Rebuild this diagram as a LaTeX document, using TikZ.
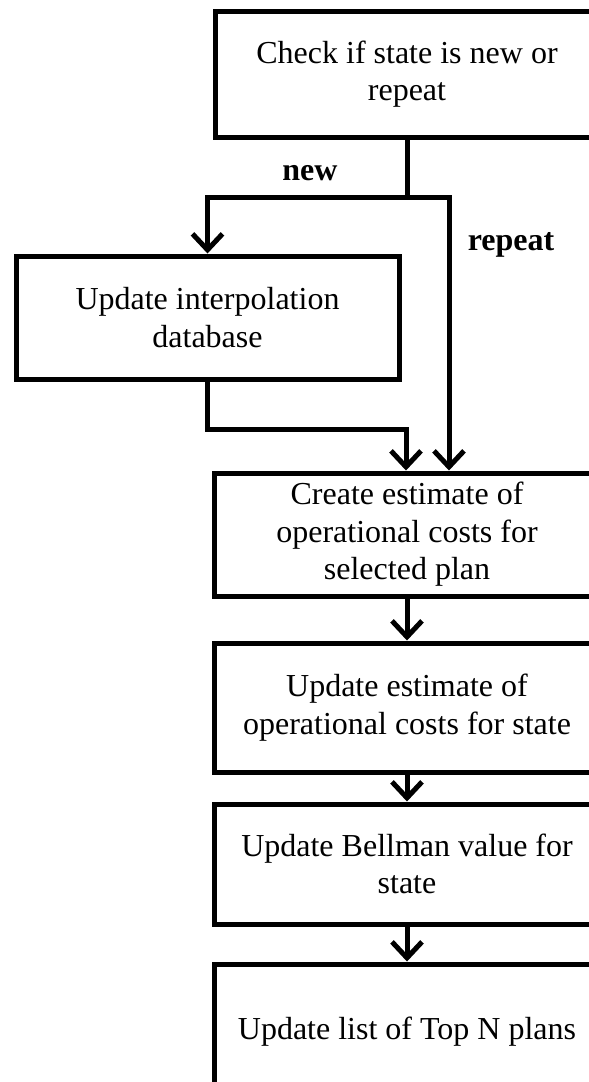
\documentclass[tikz,border=0pt]{standalone}
\usepackage{fontspec}
\setmainfont{Liberation Serif}
\usetikzlibrary{arrows.meta,calc}
\begin{document}
\begin{tikzpicture}[x=1pt,y=-1pt,
  box/.style={draw, line width=5pt, minimum width=384pt, inner sep=0pt, align=center,
    font=\fontsize{32}{37.5}\selectfont},
  conn/.style={line width=5pt},
  arr/.style={line width=5pt, -{Straight Barb[length=16pt,width=30pt]}},
  lbl/.style={font=\fontsize{32}{37.5}\selectfont\bfseries, inner sep=0pt}]
\useasboundingbox (0,0) rectangle (589,1082);
\clip (0,0) rectangle (589,1082);
\node[box, minimum height=126pt] (b1) at (407,74) {Check if state is new or\\repeat};
\node[box, minimum width=383pt, minimum height=123pt] (b2) at (207.5,317.5) {Update interpolation\\database};
\node[box, minimum width=386pt, minimum height=123pt] (b3) at (407,534.5) {Create estimate of\\operational costs for\\selected plan};
\node[box, minimum width=386pt, minimum height=129pt] (b4) at (407,707.5) {Update estimate of\\operational costs for state};
\node[box, minimum width=386pt, minimum height=120pt] (b5) at (407,864) {Update Bellman value for\\state};
\node[box, minimum width=386pt, minimum height=136pt] (b6) at (407,1032) {Update list of Top N plans};
\coordinate (j) at (407,197);
\draw[conn] (b1.south) -- (j);
\draw[arr] (j) -| (b2.north);
\draw[arr] (j) -| ($(b3.north)+(42,0)$);
\draw[arr] (b2.south) -- ++(0,48) -| ($(b3.north)+(-1,0)$);
\draw[arr] (b3.south) -- (b4.north);
\draw[arr] (b4.south) -- (b5.north);
\draw[arr] (b5.south) -- (b6.north);
\node[lbl] (lnew) at (310,173) {new};
\node[lbl] (lrep) at (511,245) {repeat};
\end{tikzpicture}
\end{document}
